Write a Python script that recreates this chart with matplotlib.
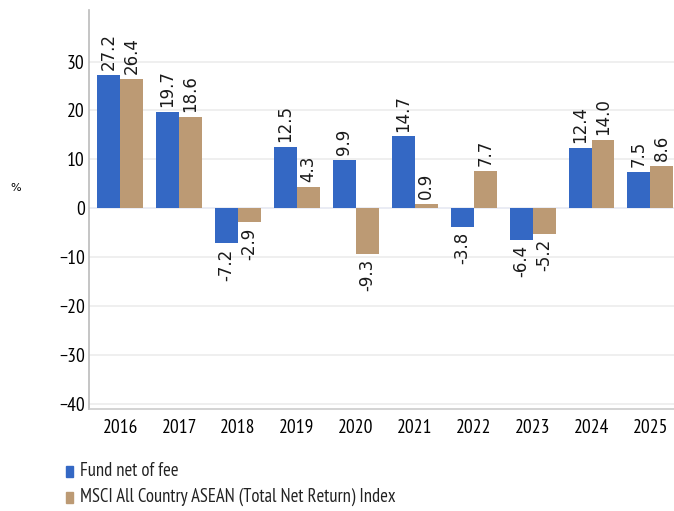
import matplotlib
matplotlib.use("Agg")
import matplotlib.pyplot as plt
import numpy as np

years = ["2016", "2017", "2018", "2019", "2020", "2021", "2022", "2023", "2024", "2025"]
fund = [27.2, 19.7, -7.2, 12.5, 9.9, 14.7, -3.8, -6.4, 12.4, 7.5]
index = [26.4, 18.6, -2.9, 4.3, -9.3, 0.9, 7.7, -5.2, 14.0, 8.6]
series_names = ["Fund net of fee", "MSCI All Country ASEAN (Total Net Return) Index"]
yticks = [-40, -30, -20, -10, 0, 10, 20, 30]

narrow = ["PT Sans Narrow", "DejaVu Sans"]

blue = "#3468c4"
tan = "#bc9a74"

fig = plt.figure(figsize=(6.74, 5.11), dpi=100)
ax = fig.add_axes([0.132, 0.2, 0.868, 0.78])

x = np.arange(len(years))
w = 0.39
b1 = ax.bar(x - w / 2, fund, w, color=blue, zorder=3)
b2 = ax.bar(x + w / 2, index, w, color=tan, zorder=3)

for bars, vals in ((b1, fund), (b2, index)):
    for rect, v in zip(bars, vals):
        cx = rect.get_x() + rect.get_width() / 2
        off = 3.5 if v >= 0 else -3.5
        ax.annotate(f"{v:.1f}", (cx, v), xytext=(0, off), textcoords="offset points",
                    rotation=90, ha="center", va="bottom" if v >= 0 else "top",
                    fontsize=12, family="DejaVu Sans", color="#1a1a1a")

ax.set_ylim(-41, 40.5)
ax.set_xlim(-0.53, 9.4)
ax.set_yticks(yticks)
ax.set_yticklabels([str(t).replace("-", "\u2212") for t in yticks], family=narrow, fontsize=14)
ax.set_xticks(x)
ax.set_xticklabels(years, family=narrow, fontsize=14)
ax.tick_params(axis="y", length=0, pad=3)
ax.tick_params(axis="x", length=0, pad=7)
for t in yticks:
    ax.axhline(t, color="#e6e9f2" if t == 0 else "#ececec", lw=1.2, zorder=1)
for s in ["top", "right"]:
    ax.spines[s].set_visible(False)
ax.spines["left"].set_color("#bbbbbb")
ax.spines["bottom"].set_color("#cccccc")
ax.spines["left"].set_linewidth(1.2)
ax.spines["bottom"].set_linewidth(1.2)

fig.text(10 / 674, 1 - 188 / 511, "%", fontsize=8, family="DejaVu Sans", va="center", ha="left")

for i, (name, col) in enumerate(zip(series_names, [blue, tan])):
    yy = 1 - (471 + 26 * i) / 511
    fig.patches.append(matplotlib.patches.Rectangle((66 / 674, yy - 5.5 / 511), 7 / 674, 11 / 511,
                                                    transform=fig.transFigure, color=col))
    fig.text(80 / 674, yy, name, family=narrow, fontsize=13.4, va="center", ha="left", color="#222222")

fig.savefig("out.png", dpi=100)
